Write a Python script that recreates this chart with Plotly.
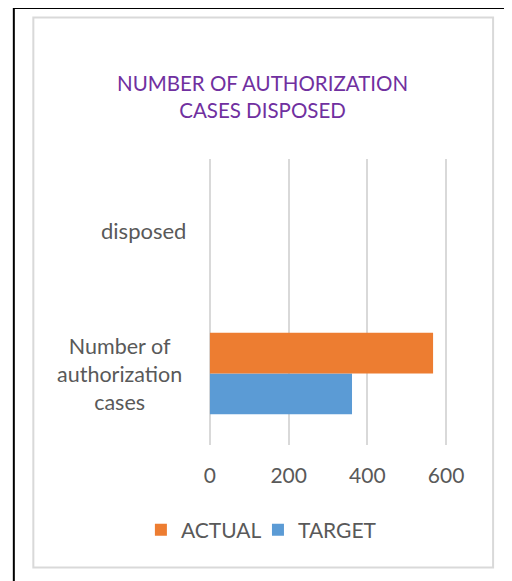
import plotly.graph_objects as go

categories = ["Number of authorization cases", "disposed"]
category_labels = ["Number of<br>authorization<br>cases", "disposed"]
actual = [567, None]
target = [361, None]
x_ticks = [0, 200, 400, 600]
x_range = [-10, 610]
title_text = "NUMBER OF AUTHORIZATION<br>CASES DISPOSED"

OFF = 8  # browser body margin
W, H = 512 - OFF, 581 - OFF
# target pixel positions (in the screenshot) for value 0 and 600, plot top/bottom
X0, X600, T_, B_ = 210, 446, 159, 445
scale = (X600 - X0) / 600.0
L = X0 + x_range[0] * scale - OFF
R = X0 + x_range[1] * scale - OFF
T = T_ - OFF
B = B_ - OFF
pw, ph = R - L, B - T

def px(x):
    return (x - OFF - L) / pw

def py(y):
    return (B - (y - OFF)) / ph

FONT = "Lato"
GREY = "#595959"

fig = go.Figure()
fig.add_trace(go.Bar(y=categories, x=target, name="TARGET", orientation="h",
                     legend="legend2",
                     marker=dict(color="#5B9BD5", line=dict(width=0))))
fig.add_trace(go.Bar(y=categories, x=actual, name="ACTUAL", orientation="h",
                     legend="legend",
                     marker=dict(color="#ED7D31", line=dict(width=0))))

legend_common = dict(orientation="h", yanchor="middle", y=py(530),
                     xanchor="left", font=dict(size=21, color=GREY),
                     itemwidth=30, bgcolor="rgba(0,0,0,0)")

fig.update_layout(
    width=W, height=H,
    margin=dict(l=L, r=W - R, t=T, b=H - B, pad=0, autoexpand=False),
    paper_bgcolor="white", plot_bgcolor="white",
    barmode="group", bargap=0.43, bargroupgap=0,
    font=dict(family=FONT, color=GREY, size=21),
    showlegend=True,
    legend=dict(x=px(141), **legend_common),
    legend2=dict(x=px(258), **legend_common),
    xaxis=dict(range=x_range, tickvals=x_ticks, showgrid=True,
               gridcolor="#D9D9D9", gridwidth=2, zeroline=False,
               showline=False, ticks="", ticklabelstandoff=16,
               tickfont=dict(size=21, color=GREY), fixedrange=True),
    yaxis=dict(showticklabels=False, showgrid=False, zeroline=False,
               showline=False, ticks="", fixedrange=True),
)

# category labels, centred per line
fig.add_annotation(x=px(184), y=categories[0], xref="paper", yref="y",
                   text=category_labels[0], showarrow=False, xanchor="right",
                   align="center", font=dict(size=21.5, color=GREY, family=FONT))
fig.add_annotation(x=px(188), y=categories[1], xref="paper", yref="y",
                   text=category_labels[1], showarrow=False, xanchor="right",
                   align="center", font=dict(size=22, color=GREY, family=FONT))

# title
fig.add_annotation(x=px(263), y=py(96), xref="paper", yref="paper",
                   text=title_text, showarrow=False, xanchor="center",
                   yanchor="middle", align="center",
                   font=dict(size=20.5, color="#7030A0", family=FONT))

# borders
fig.add_shape(type="rect", xref="paper", yref="paper",
              x0=px(14), x1=px(530), y0=py(600), y1=py(8),
              line=dict(color="black", width=2), layer="below")
fig.add_shape(type="rect", xref="paper", yref="paper",
              x0=px(33.5), x1=px(493), y0=py(567.5), y1=py(17.5),
              line=dict(color="#D9D9D9", width=2), layer="below")

fig.write_html("out.html")
